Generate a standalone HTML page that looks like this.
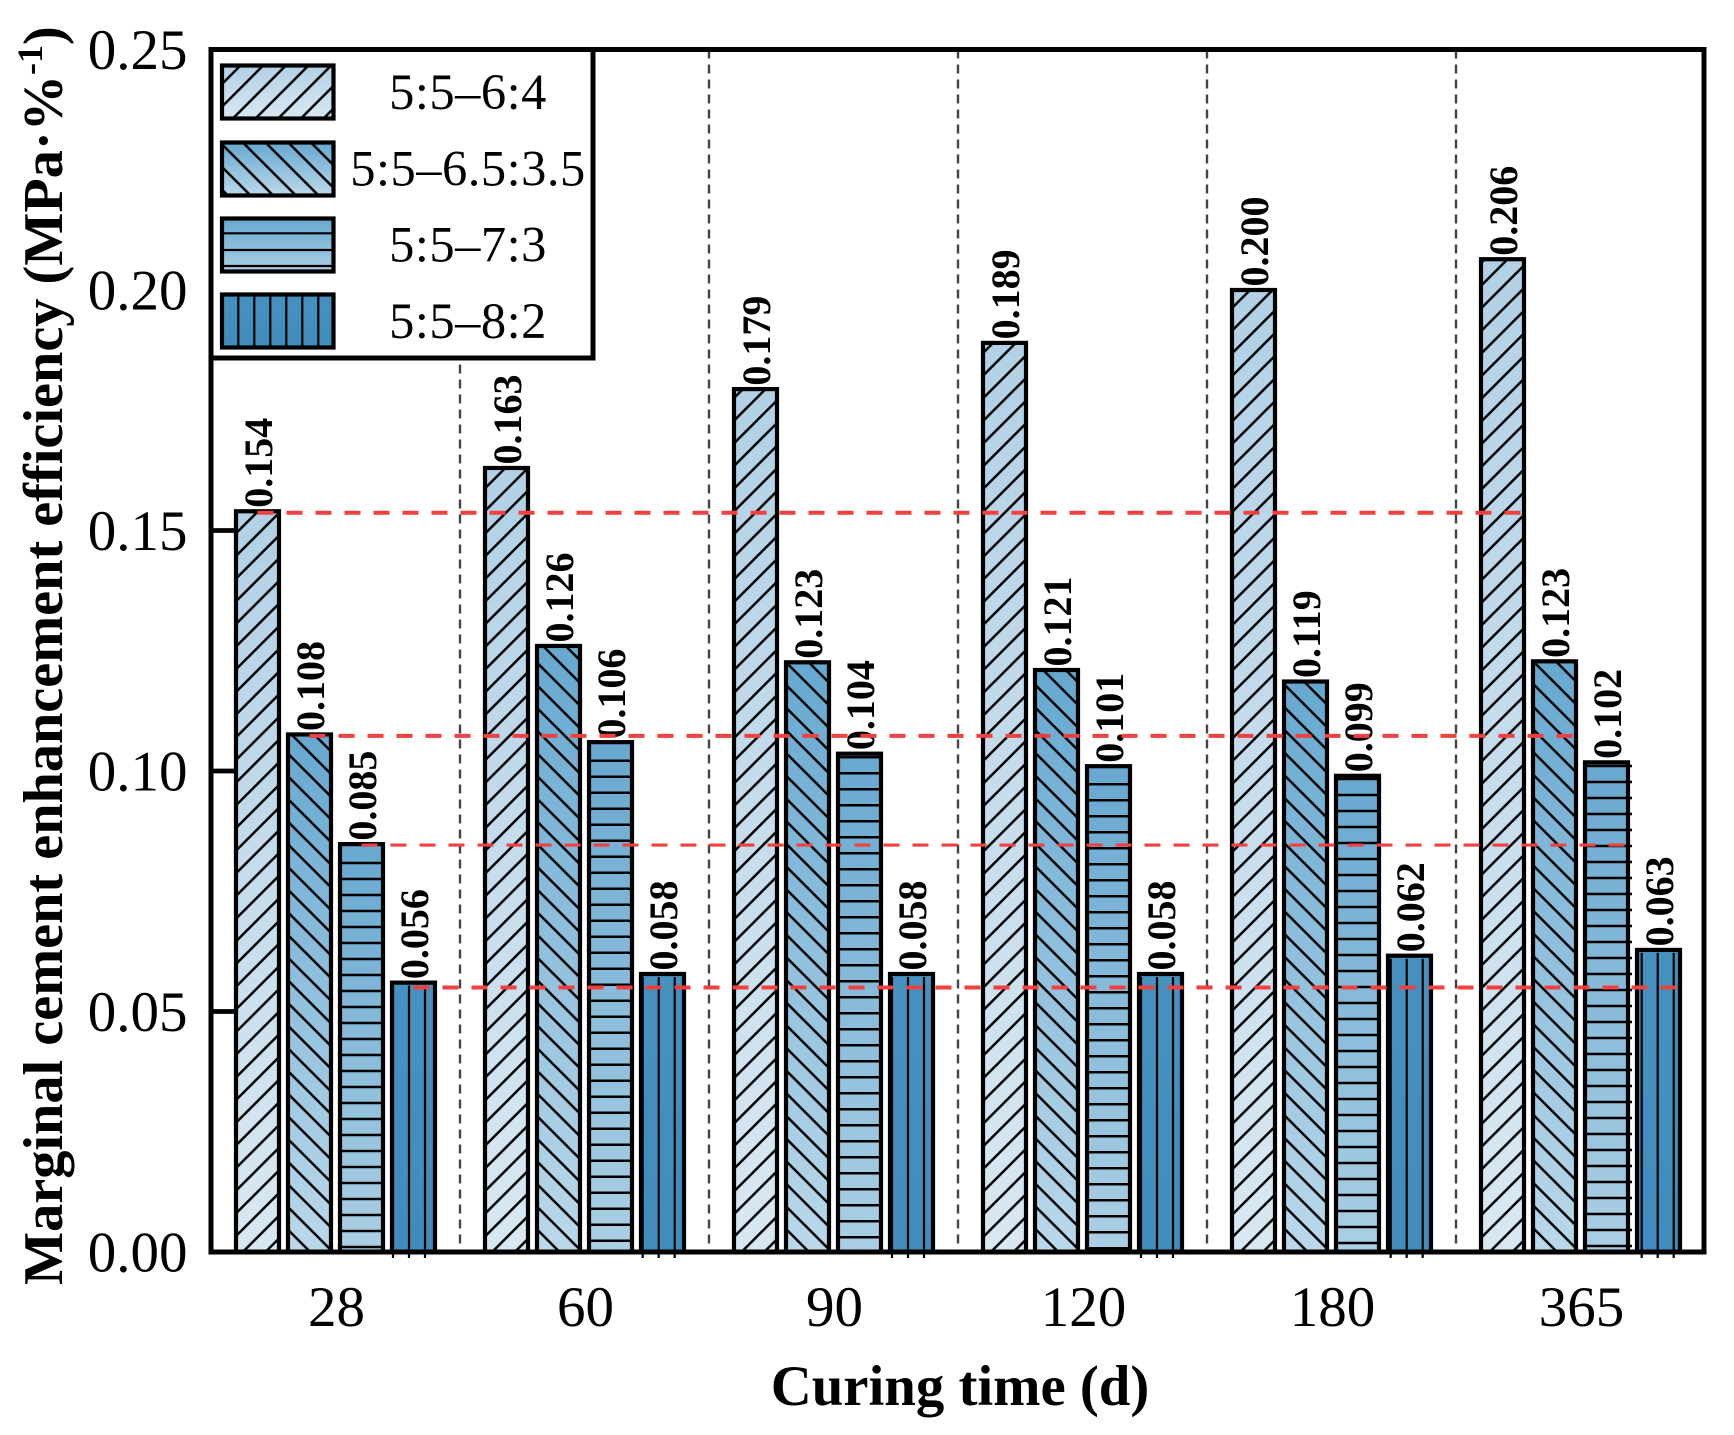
<!DOCTYPE html>
<html>
<head>
<meta charset="utf-8">
<title>Marginal cement enhancement efficiency</title>
<style>
html,body{margin:0;padding:0;background:#fff;}
svg{display:block;font-family:"Liberation Serif","Times New Roman",serif;}
</style>
</head>
<body>
<svg id="chart" xmlns="http://www.w3.org/2000/svg" width="1734" height="1435" viewBox="0 0 1734 1435">
<defs>
<linearGradient id="g0" x1="0" y1="0" x2="0" y2="1"><stop offset="0" stop-color="#b2d1e6"/><stop offset="1" stop-color="#d8e8f2"/></linearGradient>
<linearGradient id="g1" x1="0" y1="0" x2="0" y2="1"><stop offset="0" stop-color="#66a8d0"/><stop offset="1" stop-color="#bad8ea"/></linearGradient>
<linearGradient id="g2" x1="0" y1="0" x2="0" y2="1"><stop offset="0" stop-color="#68a8d0"/><stop offset="1" stop-color="#abcfe4"/></linearGradient>
<linearGradient id="g3" x1="0" y1="0" x2="0" y2="1"><stop offset="0" stop-color="#4691c0"/><stop offset="1" stop-color="#408cbc"/></linearGradient>
<pattern id="hatch-fwd" patternUnits="userSpaceOnUse" width="22.67" height="22.67" patternTransform="translate(21.2,0)"><path d="M-2,24.67L24.67,-2M-2,2L2,-2M20.67,24.67L24.67,20.67" stroke="#000" stroke-width="2.5" fill="none"/></pattern>
<pattern id="hatch-back" patternUnits="userSpaceOnUse" width="22.67" height="22.67" patternTransform="translate(10.4,0)"><path d="M-2,-2L24.67,24.67M-2,20.67L2,24.67M20.67,-2L24.67,2" stroke="#000" stroke-width="2.5" fill="none"/></pattern>
<pattern id="hatch-fwd-legend" patternUnits="userSpaceOnUse" width="22.67" height="22.67" patternTransform="translate(11.3,0)"><path d="M-2,24.67L24.67,-2M-2,2L2,-2M20.67,24.67L24.67,20.67" stroke="#000" stroke-width="2.5" fill="none"/></pattern>
<pattern id="hatch-back-legend" patternUnits="userSpaceOnUse" width="22.67" height="22.67" patternTransform="translate(9.7,0)"><path d="M-2,-2L24.67,24.67M-2,20.67L2,24.67M20.67,-2L24.67,2" stroke="#000" stroke-width="2.5" fill="none"/></pattern>
</defs>
</svg>
<script>
const categories = ["28", "60", "90", "120", "180", "365"];
const seriesNames = ["5:5–6:4", "5:5–6.5:3.5", "5:5–7:3", "5:5–8:2"];
const series64 = [0.154, 0.163, 0.1794, 0.189, 0.200, 0.2064];
const series6535 = [0.1076, 0.126, 0.1226, 0.121, 0.1186, 0.1228];
const series73 = [0.0848, 0.106, 0.1036, 0.101, 0.099, 0.1018];
const series82 = [0.056, 0.0578, 0.0578, 0.0578, 0.0616, 0.0628];
const referenceLevels = [0.1537, 0.1073, 0.0846, 0.055];
const yTickValues = [0, 0.05, 0.10, 0.15, 0.20, 0.25];
const allSeries = [series64, series6535, series73, series82];

const NS = 'http://www.w3.org/2000/svg';
const svg = document.getElementById('chart');
const L = 211, R = 1704, T = 49.5, B = 1252;
const yMax = 0.25;
const groupStep = 249, barStep = 52, barW = 43, firstBar = 236;
const yScale = v => B - (v / yMax) * (B - T);
const barX = (g, s) => firstBar + g * groupStep + s * barStep;
const hLinePhase = [15, 8.7, 5.3, 0.3, 11, 14];
const hLineOver = [0, 0, 2, 0, 2, 4];
const vLineOffset = [1, 1.7, 2, 2, 2.7, 4.7];

function mk(tag, attrs, parent) {
  const el = document.createElementNS(NS, tag);
  for (const k in attrs) el.setAttribute(k, attrs[k]);
  (parent || svg).appendChild(el);
  return el;
}

/* separators */
categories.slice(0, -1).forEach((c, i) => {
  const x = firstBar + (i + 1) * groupStep - 25;
  const sep = mk('line', {x1: x, x2: x, y1: T, y2: B, stroke: '#444', 'stroke-width': 2.4, 'stroke-dasharray': '9 6'});
  
  
});

/* y ticks */
yTickValues.forEach(v => {
  const y = yScale(v);
  const tick = mk('line', {x1: L, x2: L + 24, y1: y, y2: y, stroke: '#000', 'stroke-width': 4.8});
  
  
  const lab = mk('text', {x: 187.5, y: y + 19.5, 'text-anchor': 'end', 'font-size': 57, fill: '#000'});
  lab.textContent = v.toFixed(2);
  
  
});

/* x tick labels */
categories.forEach((c, g) => {
  const cx = (barX(g, 0) + barX(g, 3) + barW) / 2 + 1;
  const lab = mk('text', {x: cx, y: 1326, 'text-anchor': 'middle', 'font-size': 57, fill: '#000'});
  lab.textContent = c;
  
  
});

/* hatch helper for horizontal / vertical strokes */
function hatchLines(s, x, y, w, h, g, parent, bottom) {
  if (s === 2) {
    const p = hLinePhase[g];
    let ly = Math.ceil((y + 3 - p) / 16) * 16 + p;
    for (; ly < y + h; ly += 16) {
      mk('line', {x1: x + 2, x2: x + w + hLineOver[g], y1: ly, y2: ly, stroke: '#000', 'stroke-width': 2.5}, parent);
    }
  }
  if (s === 3) {
    for (let lx = x + vLineOffset[g]; lx < x + w; lx += 16) {
      mk('line', {x1: lx, x2: lx, y1: y + 3, y2: bottom, stroke: '#000', 'stroke-width': 2.2}, parent);
    }
  }
}

/* bars */
allSeries.forEach((vals, s) => {
  vals.forEach((v, g) => {
    const x = barX(g, s), y = yScale(v), h = B - y;
    const bar = mk('g', {});
    
    
    mk('rect', {x: x, y: y, width: barW, height: h, fill: 'url(#g' + s + ')'}, bar);
    if (s === 0) mk('rect', {x: x, y: y, width: barW, height: h, fill: 'url(#hatch-fwd)'}, bar);
    if (s === 1) mk('rect', {x: x, y: y, width: barW, height: h, fill: 'url(#hatch-back)'}, bar);
    hatchLines(s, x, y, barW, h, g, bar, B + 6);
    mk('rect', {x: x, y: y, width: barW, height: h, fill: 'none', stroke: '#000', 'stroke-width': 4.2}, bar);
    const lx = x + barW / 2 + 14.5, ly = y - 3.5;
    const lab = mk('text', {x: lx, y: ly, transform: 'rotate(-90 ' + lx + ' ' + ly + ')', 'font-size': 40, 'font-weight': 'bold', fill: '#000'});
    lab.textContent = v.toFixed(3);
    
    
  });
});

/* reference lines */
referenceLevels.forEach((v, s) => {
  const y = yScale(v);
  const x1 = barX(0, s) + barW / 2;
  const x2 = barX(categories.length - 1, s) + barW + 1;
  const rl = mk('line', {x1: x1, x2: x2, y1: y, y2: y, stroke: '#f04040', 'stroke-width': s === 2 ? 3.2 : 4, 'stroke-dasharray': '16 13'});
  
  
});

/* frame */
const frame = mk('rect', {x: L, y: T, width: R - L, height: B - T, fill: 'none', stroke: '#000', 'stroke-width': 5});



/* legend */
const legend = mk('g', {});


mk('rect', {x: L, y: T, width: 382, height: 308.5, fill: '#fff', stroke: '#000', 'stroke-width': 5}, legend);
const legendTop = [65.5, 142.5, 218.5, 294.5];
seriesNames.forEach((name, s) => {
  const entry = mk('g', {}, legend);
  
  
  const x = 222, y = legendTop[s], w = 111.5, h = 53;
  mk('rect', {x: x, y: y, width: w, height: h, fill: 'url(#g' + s + ')'}, entry);
  if (s === 0) mk('rect', {x: x, y: y, width: w, height: h, fill: 'url(#hatch-fwd-legend)'}, entry);
  if (s === 1) mk('rect', {x: x, y: y, width: w, height: h, fill: 'url(#hatch-back-legend)'}, entry);
  if (s === 2) [233.3, 250, 266].forEach(ly => mk('line', {x1: x, x2: x + w, y1: ly, y2: ly, stroke: '#000', 'stroke-width': 2.2}, entry));
  if (s === 3) for (let lx = 238.3; lx < x + w; lx += 16) mk('line', {x1: lx, x2: lx, y1: y, y2: y + h, stroke: '#000', 'stroke-width': 2.2}, entry);
  mk('rect', {x: x, y: y, width: w, height: h, fill: 'none', stroke: '#000', 'stroke-width': 4.2}, entry);
  const t = mk('text', {x: 468, y: 109 + s * 76.3, 'text-anchor': 'middle', 'font-size': 50.5, 'letter-spacing': 0.5, fill: '#000'}, entry);
  t.textContent = name;
  
  
});

/* axis titles */
const xTitle = mk('text', {x: 960, y: 1405, 'text-anchor': 'middle', 'font-size': 56.8, 'font-weight': 'bold', fill: '#000'});
xTitle.textContent = 'Curing time (d)';



const yTitle = mk('text', {transform: 'translate(62 1285) rotate(-90)', x: 0, y: 0, 'font-size': 56.3, 'font-weight': 'bold', fill: '#000'});


const t1 = mk('tspan', {}, yTitle);
t1.textContent = 'Marginal cement enhancement efficiency (MPa·%';
const t2 = mk('tspan', {dy: -20, 'font-size': 36}, yTitle);
t2.textContent = '-1';
const t3 = mk('tspan', {dy: 20}, yTitle);
t3.textContent = ')';
</script>
</body>
</html>
